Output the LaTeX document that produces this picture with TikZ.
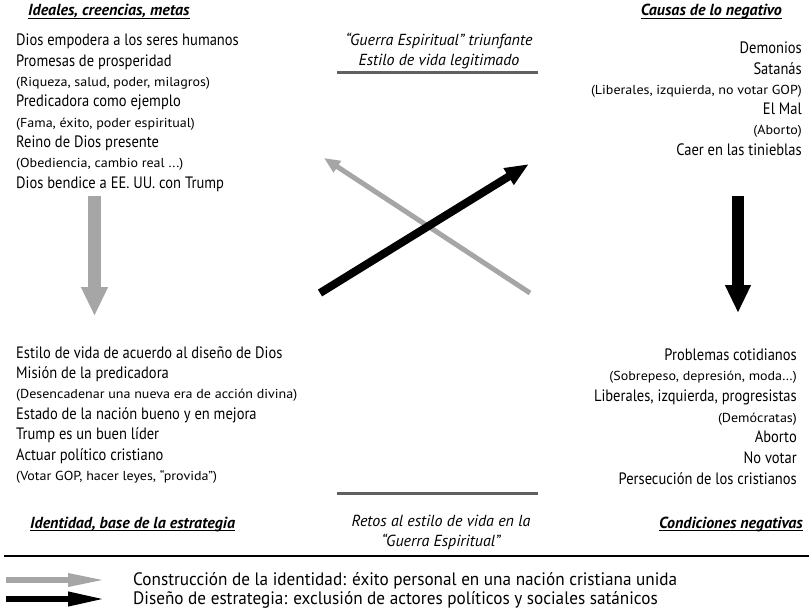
\documentclass[tikz,border=0pt]{standalone}
\usepackage{fontspec}
\setmainfont{PT Sans}
\newfontfamily\itemfont[FakeStretch=0.88]{PT Sans}
\newfontfamily\notefont[FakeStretch=1.08]{PT Sans}
\newfontfamily\legendfont[FakeStretch=0.955]{PT Sans}
\usetikzlibrary{arrows.meta}
\definecolor{arrowgray}{HTML}{A6A6A6}
\definecolor{rulegray}{HTML}{606060}
\tikzset{
  item/.style={inner sep=0pt, font=\fontsize{16.5}{18}\itemfont},
  note/.style={inner sep=0pt, font=\fontsize{13}{14}\notefont},
  heading/.style={inner sep=0pt, font=\fontsize{16}{18}\selectfont\bfseries\itshape},
  middle/.style={inner sep=0pt, anchor=base, font=\fontsize{16}{18}\selectfont\itshape},
  legendtext/.style={inner sep=0pt, anchor=base west, font=\fontsize{18}{20}\legendfont},
  underl/.style={line width=1pt},
  divider/.style={rulegray, line width=2.5pt},
  greyflow/.style={arrowgray, line width=13pt, -{Triangle[length=29pt,width=25pt]}},
  blackflow/.style={black, line width=12pt, -{Triangle[length=28pt,width=24pt]}},
  greycross/.style={arrowgray, line width=5pt, -{Triangle[length=16pt,width=13pt]}},
  blackcross/.style={black, line width=8pt, -{Triangle[length=24pt,width=18pt]}},
  greykey/.style={arrowgray, line width=6pt, -{Triangle[length=39pt,width=12pt]}},
  blackkey/.style={black, line width=6.5pt, -{Triangle[length=39pt,width=13pt]}},
}
\begin{document}
\begin{tikzpicture}[x=1pt,y=-1pt]
\useasboundingbox (0,0) rectangle (809,610);

% Headings of the four quadrants
\node[heading, anchor=base west] (h1) at (28,16) {Ideales, creencias, metas};
\node[heading, anchor=base east] (h2) at (782,16) {Causas de lo negativo};
\node[heading, anchor=base west] (h3) at (30,528) {Identidad, base de la estrategia};
\node[heading, anchor=base east] (h4) at (803,528) {Condiciones negativas};
\foreach \h in {h1,h2,h3,h4}
  \draw[underl] ([yshift=-2.5pt]\h.base west) -- ([yshift=-2.5pt]\h.base east);

% Upper left: ideals
\node[item, anchor=base west] (a1) at (16,46) {Dios empodera a los seres humanos};
\node[item, anchor=base west] (a2) at (16,66.3) {Promesas de prosperidad};
\node[note, anchor=base west] (a3) at (16,86.6) {(Riqueza, salud, poder, milagros)};
\node[item, anchor=base west] (a4) at (16,106.9) {Predicadora como ejemplo};
\node[note, anchor=base west] (a5) at (16,127.2) {(Fama, éxito, poder espiritual)};
\node[item, anchor=base west] (a6) at (16,147.5) {Reino de Dios presente};
\node[note, anchor=base west] (a7) at (16,167.8) {(Obediencia, cambio real ...)};
\node[item, anchor=base west] (a8) at (16,188.1) {Dios bendice a EE. UU. con Trump};

% Upper right: causes
\node[item, anchor=base east] (b1) at (802,54) {Demonios};
\node[item, anchor=base east] (b2) at (802,74.2) {Satanás};
\node[note, anchor=base east] (b3) at (802,94.4) {(Liberales, izquierda, no votar GOP)};
\node[item, anchor=base east] (b4) at (802,114.6) {El Mal};
\node[note, anchor=base east] (b5) at (802,134.8) {(Aborto)};
\node[item, anchor=base east] (b6) at (802,155) {Caer en las tinieblas};

% Lower left: identity
\node[item, anchor=base west] (c1) at (16,358) {Estilo de vida de acuerdo al diseño de Dios};
\node[item, anchor=base west] (c2) at (16,378.4) {Misión de la predicadora};
\node[note, anchor=base west] (c3) at (16,398.8) {(Desencadenar una nueva era de acción divina)};
\node[item, anchor=base west] (c4) at (16,419.2) {Estado de la nación bueno y en mejora};
\node[item, anchor=base west] (c5) at (16,439.6) {Trump es un buen líder};
\node[item, anchor=base west] (c6) at (16,460) {Actuar político cristiano};
\node[note, anchor=base west] (c7) at (16,480.4) {(Votar GOP, hacer leyes, “provida”)};

% Lower right: negative conditions
\node[item, anchor=base east] (d1) at (797,360) {Problemas cotidianos};
\node[note, anchor=base east] (d2) at (797,380.7) {(Sobrepeso, depresión, moda…)};
\node[item, anchor=base east] (d3) at (797,401.4) {Liberales, izquierda, progresistas};
\node[note, anchor=base east] (d4) at (797,422.1) {(Demócratas)};
\node[item, anchor=base east] (d5) at (797,442.8) {Aborto};
\node[item, anchor=base east] (d6) at (797,463.5) {No votar};
\node[item, anchor=base east] (d7) at (797,484.2) {Persecución de los cristianos};

% Centre captions with their rules
\node[middle] (m1) at (439,46) {“Guerra Espiritual” triunfante};
\node[middle] (m2) at (439,66) {Estilo de vida legitimado};
\coordinate (r1a) at (337,72.5);
\coordinate (r1b) at (538,72.5);
\draw[divider] (r1a) -- (r1b);
\coordinate (r2a) at (337,493.5);
\coordinate (r2b) at (538,493.5);
\draw[divider] (r2a) -- (r2b);
\node[middle] (m3) at (441,526) {Retos al estilo de vida en la};
\node[middle] (m4) at (441,546) {“Guerra Espiritual”};

% Flow arrows
\coordinate (gd1) at (94.5,196);
\coordinate (gd2) at (94.5,316);
\draw[greyflow] (gd1) -- (gd2);
\coordinate (bd1) at (738,196);
\coordinate (bd2) at (738,313);
\draw[blackflow] (bd1) -- (bd2);
\coordinate (gx1) at (530,293);
\coordinate (gx2) at (324,158);
\draw[greycross] (gx1) -- (gx2);
\coordinate (bx1) at (320,293);
\coordinate (bx2) at (529,164);
\draw[blackcross] (bx1) -- (bx2);

% Legend
\coordinate (la) at (4,556);
\coordinate (lb) at (809,556);
\draw[line width=1.2pt] (la) -- (lb);
\coordinate (k1a) at (6,580);
\coordinate (k1b) at (107,580);
\draw[greykey] (k1a) -- (k1b);
\coordinate (k2a) at (6,599);
\coordinate (k2b) at (107,599);
\draw[blackkey] (k2a) -- (k2b);
\node[legendtext] (t1) at (133,585) {Construcción de la identidad: éxito personal en una nación cristiana unida};
\node[legendtext] (t2) at (133,604) {Diseño de estrategia: exclusión de actores políticos y sociales satánicos};
\end{tikzpicture}
\end{document}
